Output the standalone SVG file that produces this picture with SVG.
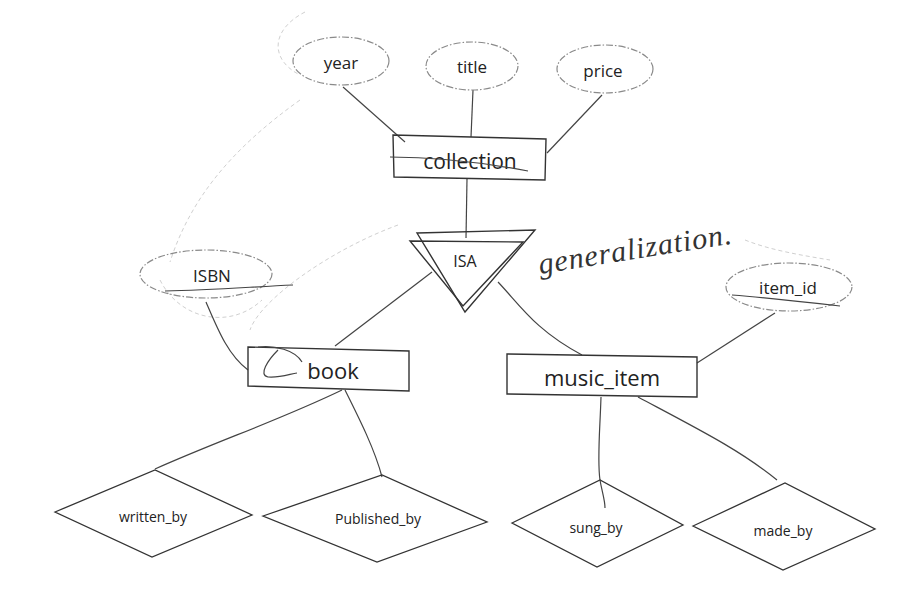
<svg xmlns="http://www.w3.org/2000/svg" width="901" height="591" viewBox="0 0 901 591">
<style>
.attr{fill:none;stroke:#8a8a8a;stroke-width:1.2;stroke-dasharray:7 2 1.5 2}
.ent{fill:none;stroke:#333;stroke-width:1.4}
.rel{fill:none;stroke:#333;stroke-width:1.3}
.ln{fill:none;stroke:#444;stroke-width:1.2}
.faint{fill:none;stroke:#d0d0d0;stroke-width:1;stroke-dasharray:4 3}
.t{font-family:"Open Sans","Noto Sans",sans-serif;fill:#222;text-anchor:middle;dominant-baseline:central}
</style>
<rect width="901" height="591" fill="#fff"/>
<g id="scribbles">
<path class="faint" d="M305 12 C270 30 270 60 300 75"/>
<path class="faint" d="M300 100 C230 150 190 200 170 262"/>
<path class="faint" d="M398 225 C330 250 260 300 250 330"/>
<path class="faint" d="M160 280 C180 320 230 330 262 300"/>
<path class="faint" d="M745 240 C770 250 800 255 830 260"/>
</g>
<g id="connectors">
<path class="ln" d="M343 87 L405 142"/>
<path class="ln" d="M473 90 L471 137"/>
<path class="ln" d="M602 95 L547 153"/>
<path class="ln" d="M467 179 L466 238"/>
<path class="ln" d="M206 302 C218 330 228 355 248 370"/>
<path class="ln" d="M432 272 L335 346"/>
<path class="ln" d="M498 282 C520 305 535 330 582 355"/>
<path class="ln" d="M775 313 L697 363"/>
<path class="ln" d="M342 390 C280 420 220 440 155 469"/>
<path class="ln" d="M345 390 C360 420 375 450 382 477"/>
<path class="ln" d="M601 397 C600 430 597 460 600 480 C602 492 605 500 605 508"/>
<path class="ln" d="M638 397 C700 430 740 450 777 480"/>
</g>
<g id="year">
<ellipse class="attr" cx="341" cy="61" rx="48" ry="24"/>
<text class="t" x="341" y="62" font-size="17">year</text>
</g>
<g id="title">
<ellipse class="attr" cx="472" cy="66" rx="46" ry="24"/>
<text class="t" x="472" y="66" font-size="17">title</text>
</g>
<g id="price">
<ellipse class="attr" cx="605" cy="69" rx="48" ry="24"/>
<text class="t" x="603" y="70" font-size="17">price</text>
</g>
<g id="collection">
<path class="ent" d="M393 135 L546 139 L545 180 L394 177 Z"/>
<text class="t" x="470" y="161" font-size="21">collection</text>
<path class="ln" d="M390 157 C430 157 480 162 528 171"/>
</g>
<g id="isa">
<path class="ent" d="M417 233 L535 230 L465 312 Z"/>
<path class="ent" d="M410 241 L523 242 L463 306 Z"/>
<text class="t" x="465" y="261" font-size="16">ISA</text>
</g>
<text x="540" y="274" font-family="'Liberation Serif',serif" font-style="italic" font-size="30" fill="#333" transform="rotate(-9 540 274)" textLength="195">generalization.</text>
<g id="isbn">
<ellipse class="attr" cx="206" cy="274" rx="66" ry="24"/>
<text class="t" x="212" y="275" font-size="17">ISBN</text>
<path class="ln" d="M165 291 C210 290 250 287 293 285" stroke="#888"/>
</g>
<g id="book">
<path class="ent" d="M248 347 L409 351 L409 391 L248 386 Z"/>
<text class="t" x="333" y="370" font-size="22">book</text>
<path class="ln" d="M258 347 C275 345 295 350 302 362 M278 350 C268 360 258 375 268 377 C280 378 290 374 297 373"/>
</g>
<g id="music_item">
<path class="ent" d="M507 354 L697 357 L697 397 L507 394 Z"/>
<text class="t" x="602" y="377" font-size="22">music_item</text>
</g>
<g id="item_id">
<ellipse class="attr" cx="789" cy="287" rx="63" ry="24"/>
<text class="t" x="788" y="287" font-size="17">item_id</text>
<path class="ln" d="M732 295 C770 298 805 302 840 306" stroke="#888"/>
</g>
<g id="written_by">
<path class="rel" d="M55 512 L155 470 L252 515 L152 557 Z"/>
<text class="t" x="153" y="516" font-size="14">written_by</text>
</g>
<g id="published_by">
<path class="rel" d="M263 516 L382 475 L487 522 L377 562 Z"/>
<text class="t" x="378" y="518" font-size="14">Published_by</text>
</g>
<g id="sung_by">
<path class="rel" d="M512 523 L600 480 L683 525 L597 567 Z"/>
<text class="t" x="596" y="527" font-size="14">sung_by</text>
</g>
<g id="made_by">
<path class="rel" d="M693 526 L785 483 L875 529 L783 570 Z"/>
<text class="t" x="783" y="530" font-size="14">made_by</text>
</g>
</svg>
